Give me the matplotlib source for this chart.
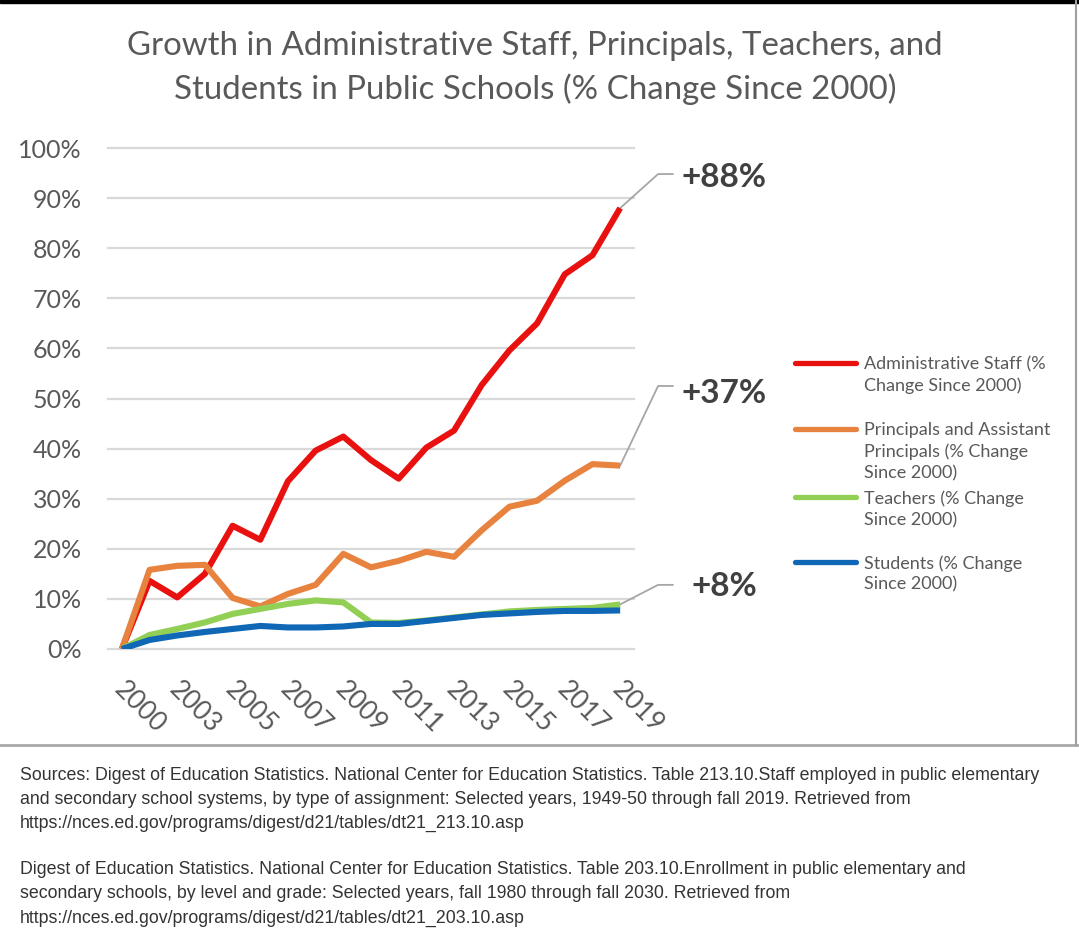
import matplotlib
matplotlib.use("Agg")
import matplotlib.pyplot as plt
import matplotlib.transforms as mtransforms
from matplotlib.lines import Line2D
from matplotlib.patches import Rectangle

# data (% change since 2000)
years = ["2000", "2002", "2003", "2004", "2005", "2006", "2007", "2008", "2009", "2010",
         "2011", "2012", "2013", "2014", "2015", "2016", "2017", "2018", "2019"]
admin = [0, 13.6, 10.3, 15.0, 24.6, 21.8, 33.5, 39.6, 42.4, 37.7, 34.0, 40.2, 43.6, 52.7, 59.6, 65.0, 74.8, 78.6, 88.0]
principals = [0, 15.8, 16.6, 16.8, 10.2, 8.5, 11.0, 12.8, 19.0, 16.3, 17.6, 19.4, 18.4, 23.7, 28.4, 29.6, 33.6, 36.9, 36.6]
teachers = [0, 2.8, 4.0, 5.3, 7.0, 8.0, 9.0, 9.7, 9.3, 5.3, 5.2, 5.7, 6.3, 6.9, 7.5, 7.8, 8.0, 8.2, 8.9]
students = [0, 1.8, 2.7, 3.4, 4.0, 4.6, 4.3, 4.3, 4.5, 5.0, 5.0, 5.6, 6.2, 6.8, 7.1, 7.4, 7.6, 7.6, 7.7]

series_names = ["Administrative Staff (%\nChange Since 2000)",
                "Principals and Assistant\nPrincipals (% Change\nSince 2000)",
                "Teachers (% Change\nSince 2000)",
                "Students (% Change\nSince 2000)"]
colors = ["#E8110F", "#E8823F", "#92CF55", "#0F67B5"]
callouts = ["+88%", "+37%", "+8%"]
yticks = [0, 10, 20, 30, 40, 50, 60, 70, 80, 90, 100]

title1 = "Growth in Administrative Staff, Principals, Teachers, and"
title2 = "Students in Public Schools (% Change Since 2000)"
sources = ["Sources: Digest of Education Statistics. National Center for Education Statistics. Table 213.10.Staff employed in public elementary",
           "and secondary school systems, by type of assignment: Selected years, 1949-50 through fall 2019. Retrieved from",
           "https://nces.ed.gov/programs/digest/d21/tables/dt21_213.10.asp",
           "",
           "Digest of Education Statistics. National Center for Education Statistics. Table 203.10.Enrollment in public elementary and",
           "secondary schools, by level and grade: Selected years, fall 1980 through fall 2030. Retrieved from",
           "https://nces.ed.gov/programs/digest/d21/tables/dt21_203.10.asp"]

W, H = 1079, 939
def fx(px):
    return px / W
def fy(py):
    return 1 - py / H

plt.rcParams["font.family"] = ["Lato", "DejaVu Sans"]
fig = plt.figure(figsize=(W / 100, H / 100), dpi=100)
ax = fig.add_axes([fx(108), fy(649), fx(634) - fx(108), fy(148) - fy(649)])

x = list(range(len(years)))
for v in yticks:
    ax.axhline(v, color="#D9D9D9", lw=1.6, zorder=0, clip_on=False)

for vals, c in zip([admin, principals, teachers, students], colors):
    ax.plot(x, vals, color=c, lw=4.4, solid_joinstyle="round", solid_capstyle="butt", zorder=3)

ax.set_xlim(-0.5, len(years) - 0.5)
ax.set_ylim(0, 100)
ax.set_yticks(yticks)
ax.set_yticklabels([f"{v}%" for v in yticks])
ax.set_xticks(x[::2])
ax.set_xticklabels(years[::2])
for s in ax.spines.values():
    s.set_visible(False)
ax.tick_params(axis="y", length=0, pad=19, labelsize=18, labelcolor="#595959")
ax.tick_params(axis="x", length=0, pad=20, labelsize=19, labelcolor="#595959")
shift = mtransforms.ScaledTranslation(0.05, 0, fig.dpi_scale_trans)
for lab in ax.get_xticklabels():
    lab.set_rotation(-45)
    lab.set_ha("left")
    lab.set_va("top")
    lab.set_rotation_mode("anchor")
    lab.set_transform(lab.get_transform() + shift)

# call-outs at the last point
last = len(years) - 1
leader_y = [94.8, 52.5, 12.8]
text_y = [94.2, 51.0, 12.4]
for vals, txt, ly, ty in zip([admin, principals, teachers], callouts, leader_y, text_y):
    ax.plot([last, last + 1.37, last + 1.9], [vals[-1], ly, ly], color="#A6A6A6", lw=1.3,
            clip_on=False, zorder=2)
    ax.text(last + 3.75, ty, txt, ha="center", va="center", fontsize=24, fontweight="bold",
            color="#404040", clip_on=False)

# legend, Excel style (line beside first text line)
leg_y = [363, 429, 497, 562]
for name, c, py in zip(series_names, colors, leg_y):
    fig.add_artist(Line2D([fx(795), fx(856)], [fy(py), fy(py)], color=c, lw=3.8,
                          solid_capstyle="round"))
    fig.text(fx(864), fy(py - 7), name, ha="left", va="top", fontsize=13,
             color="#595959", linespacing=1.4)

# title
fig.text(fx(535), fy(46), title1, ha="center", va="center", fontsize=23.8, color="#595959")
fig.text(fx(535), fy(89), title2, ha="center", va="center", fontsize=23.8, color="#595959")

# frame bits
fig.add_artist(Rectangle((0, fy(3)), 1, 3 / H, color="black", transform=fig.transFigure))
fig.add_artist(Line2D([0, 1], [fy(745), fy(745)], color="#A8A8A8", lw=2))
fig.add_artist(Line2D([fx(1076), fx(1076)], [fy(0), fy(745)], color="#A0A0A0", lw=1.5))

# sources
src_y = [775, 799, 823, 847, 870, 894, 918]
for line, py in zip(sources, src_y):
    if line:
        fig.text(fx(20), fy(py), line, ha="left", va="center", fontsize=12.75,
                 color="#333333", family=["Liberation Sans", "DejaVu Sans"])

fig.savefig("out.png", dpi=100)
